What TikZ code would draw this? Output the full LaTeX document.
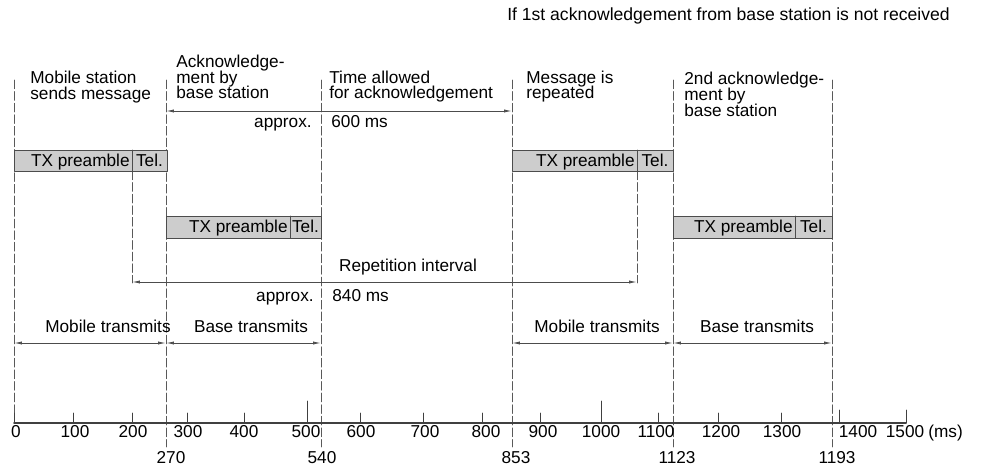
\documentclass[tikz,border=0pt]{standalone}
\usepackage{fontspec}
\setmainfont{Liberation Sans}
\usetikzlibrary{arrows.meta}
\setlength{\lineskiplimit}{-9pt}
\begin{document}
\begin{tikzpicture}[x=0.02cm, y=-0.02cm, line cap=round, line join=round,
  font=\fontsize{9.8}{9}\selectfont,
  guide/.style={black!65, line width=0.4pt, dash pattern=on 5pt off 1.6pt},
  span/.style={black!70, line width=0.5pt,
    {Latex[length=4.5pt,width=1.8pt]}-{Latex[length=4.5pt,width=1.8pt]}},
  txbox/.style={draw=black!70, fill=boxgray, line width=0.5pt},
  lbl/.style={inner sep=0pt, align=left, anchor=base west},
  tick/.style={black!75, line width=0.5pt}]
  \definecolor{boxgray}{RGB}{205,205,205}
  \useasboundingbox (0,0) rectangle (982,465);
  % time marks on the axis
  \coordinate (m0) at (14,423);
  \coordinate (m270) at (166,423);
  \coordinate (m540) at (321,423);
  \coordinate (m853) at (512,423);
  \coordinate (m1123) at (673,423);
  \coordinate (m1193) at (832,423);
  \coordinate (r1) at (132,423);
  \coordinate (r2) at (637,423);
  % vertical guides
  \draw[guide] (m0 |- 0,80) -- (m0);
  \draw[guide] (m270 |- 0,80) -- (m270 |- 0,447);
  \draw[guide] (m540 |- 0,80) -- (m540 |- 0,447);
  \draw[guide] (m853 |- 0,80) -- (m853 |- 0,447);
  \draw[guide] (m1123 |- 0,80) -- (m1123 |- 0,447);
  \draw[guide] (m1193 |- 0,80) -- (m1193 |- 0,447);
  \draw[guide] (r1 |- 0,171) -- (r1 |- 0,283);
  \draw[guide] (r2 |- 0,171) -- (r2 |- 0,283);
  % headings (base = last line)
  \node[inner sep=0pt, anchor=base east, font=\fontsize{10}{9}\selectfont] (note)
    at (950,21) {If 1st acknowledgement from base station is not received};
  \node[lbl] (sends) at (30,99.5) {Mobile station\\sends message};
  \node[lbl] (ack) at (176,99) {Acknowledge-\\ment by\\base station};
  \node[lbl] (allowed) at (329,99) {Time allowed\\for acknowledgement};
  \node[lbl] (repeat) at (526,99) {Message is\\repeated};
  \node[lbl] (ack2) at (684,116.5) {2nd acknowledge-\\ment by\\base station};
  % bursts
  \draw[txbox] (14,150) rectangle (167,171);
  \draw[black!70] (r1 |- 0,150) -- (r1 |- 0,171);
  \node[inner sep=0pt, anchor=base east] (pre1) at (130,166.5) {TX preamble};
  \node[inner sep=0pt, anchor=base] (tel1) at (149.5,166.5) {Tel.};
  \draw[txbox] (166,216) rectangle (321,238);
  \draw[black!70] (290,216) -- (290,238);
  \node[inner sep=0pt, anchor=base east] (pre2) at (288,232.5) {TX preamble};
  \node[inner sep=0pt, anchor=base] (tel2) at (305.5,232.5) {Tel.};
  \draw[txbox] (512,150) rectangle (673,171);
  \draw[black!70] (r2 |- 0,150) -- (r2 |- 0,171);
  \node[inner sep=0pt, anchor=base east] (pre3) at (635,166.5) {TX preamble};
  \node[inner sep=0pt, anchor=base] (tel3) at (655,166.5) {Tel.};
  \draw[txbox] (673,216) rectangle (832,238);
  \draw[black!70] (795,216) -- (795,238);
  \node[inner sep=0pt, anchor=base east] (pre4) at (793,232.5) {TX preamble};
  \node[inner sep=0pt, anchor=base] (tel4) at (813.5,232.5) {Tel.};
  % time allowed for acknowledgement
  \draw[span] (m270 |- 0,111) -- (m853 |- 0,111);
  \node[inner sep=0pt, anchor=base east] (apx1) at (312,128) {approx.};
  \node[inner sep=0pt, anchor=base west] (t600) at (331,128) {600 ms};
  % repetition interval
  \draw[span] (r1 |- 0,282) -- (r2 |- 0,282);
  \node[inner sep=0pt, anchor=base] (rep) at (408,272) {Repetition interval};
  \node[inner sep=0pt, anchor=base east] (apx2) at (314,302) {approx.};
  \node[inner sep=0pt, anchor=base west] (t840) at (332,302) {840 ms};
  % who transmits
  \draw[span] (m0 |- 0,343) -- (m270 |- 0,343);
  \draw[span] (m270 |- 0,343) -- (m540 |- 0,343);
  \draw[span] (m853 |- 0,343) -- (m1123 |- 0,343);
  \draw[span] (m1123 |- 0,343) -- (m1193 |- 0,343);
  \node[inner sep=0pt, anchor=base] (mob1) at (108,333) {Mobile transmits};
  \node[inner sep=0pt, anchor=base] (bas1) at (251,333) {Base transmits};
  \node[inner sep=0pt, anchor=base] (mob2) at (597,333) {Mobile transmits};
  \node[inner sep=0pt, anchor=base] (bas2) at (757,333) {Base transmits};
  % time axis
  \draw[black!75, line width=0.9pt] (m0) -- (906,423);
  \foreach \x/\top/\l/\lx in {14/413/0/16, 73/413/100/75, 132/413/200/133,
      187/413/300/188, 244/413/400/244, 307/401/500/306, 360/413/600/361,
      423/413/700/425, 482/413/800/486, 540/413/900/543, 601/401/1000/601,
      658/413/1100/656, 718/413/1200/721, 781/413/1300/782, 839/410/1400/858,
      906/410/1500/905}
  {
    \draw[tick] (\x,423) -- (\x,\top);
    \node[inner sep=0pt, anchor=base] (lab\l) at (\lx,437) {\l};
  }
  \node[inner sep=0pt, anchor=base west] (unit) at (928,437) {(ms)};
  \node[inner sep=0pt, anchor=base] (at270) at (171,463) {270};
  \node[inner sep=0pt, anchor=base] (at540) at (322,463) {540};
  \node[inner sep=0pt, anchor=base] (at853) at (516,463) {853};
  \node[inner sep=0pt, anchor=base] (at1123) at (677,463) {1123};
  \node[inner sep=0pt, anchor=base] (at1193) at (837,463) {1193};
\end{tikzpicture}
\end{document}
